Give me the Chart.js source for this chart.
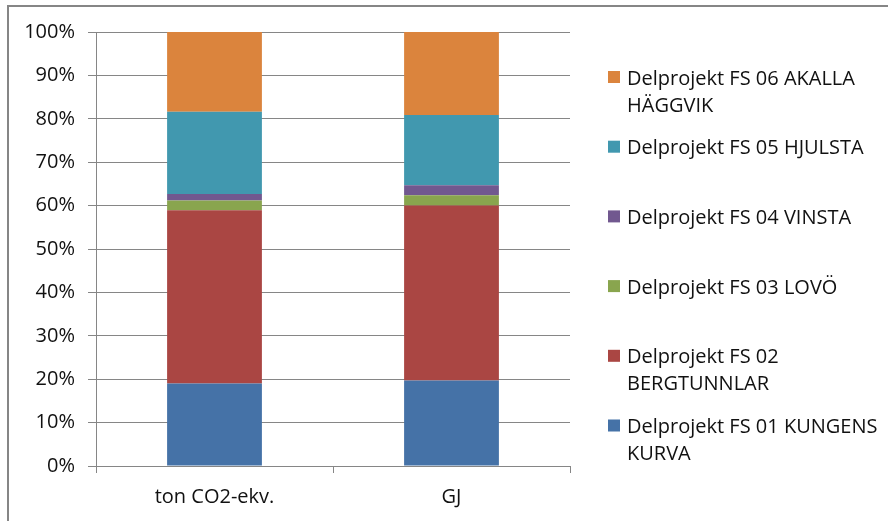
<!DOCTYPE html>
<html><head><meta charset="utf-8">
<script src="https://cdn.jsdelivr.net/npm/chart.js@4.4.1/dist/chart.umd.min.js"></script>
<style>
html,body{margin:0;padding:0;background:#fff;overflow:hidden}
#wrap{position:relative;width:888px;height:521px}
#frame{position:absolute;left:7px;top:5px;width:900px;height:600px;border-top:2px solid #868686;border-left:2px solid #868686;pointer-events:none}
canvas{position:absolute;left:0;top:0}
</style></head><body>
<div id="wrap"><canvas id="c" width="888" height="521"></canvas><div id="frame"></div></div>
<script>
// ---- data ----
const categories = ['ton CO2-ekv.', 'GJ'];
const seriesNames = [
  'Delprojekt FS 01 KUNGENS KURVA',
  'Delprojekt FS 02 BERGTUNNLAR',
  'Delprojekt FS 03 LOVÖ',
  'Delprojekt FS 04 VINSTA',
  'Delprojekt FS 05 HJULSTA',
  'Delprojekt FS 06 AKALLA HÄGGVIK'
];
const fs01 = [19.0, 19.7];
const fs02 = [39.9, 40.3];
const fs03 = [2.3, 2.4];
const fs04 = [1.5, 2.3];
const fs05 = [18.9, 16.2];
const fs06 = [18.4, 19.1];
const yTicks = [0, 10, 20, 30, 40, 50, 60, 70, 80, 90, 100];
const seriesColors = ['#4572A7', '#AA4643', '#89A54E', '#71588F', '#4198AF', '#DB843D'];

const seriesValues = [fs01, fs02, fs03, fs04, fs05, fs06];
const FONT = "'Open Sans', sans-serif";
const TEXT = '#111111';
const GRID = '#868686';

const legendPlugin = {
  id: 'sideLegend',
  afterDraw(chart) {
    const ctx = chart.ctx;
    ctx.save();
    ctx.font = '20px ' + FONT;
    ctx.textBaseline = 'alphabetic';
    ctx.textAlign = 'left';
    const ds = chart.data.datasets.slice().reverse();
    const maxW = 258;
    ds.forEach((d, i) => {
      const base = 84.5 + 69.7 * i;
      ctx.fillStyle = d.backgroundColor;
      ctx.fillRect(608, base - 13.5, 12, 12);
      const words = d.label.split(' ');
      const lines = [];
      let cur = '';
      words.forEach(w => {
        const t = cur ? cur + ' ' + w : w;
        if (ctx.measureText(t).width > maxW && cur) { lines.push(cur); cur = w; }
        else cur = t;
      });
      if (cur) lines.push(cur);
      ctx.fillStyle = TEXT;
      lines.forEach((ln, j) => ctx.fillText(ln, 627, base + 27 * j));
    });
    ctx.restore();
  }
};

new Chart(document.getElementById('c'), {
  type: 'bar',
  data: {
    labels: categories,
    datasets: seriesNames.map((n, i) => ({
      label: n,
      data: seriesValues[i],
      backgroundColor: seriesColors[i],
      borderWidth: 0,
      barPercentage: 0.4,
      categoryPercentage: 1.0
    }))
  },
  options: {
    responsive: false,
    animation: false,
    devicePixelRatio: 1,
    layout: { padding: { top: 32, left: 0, right: 318, bottom: 0 } },
    plugins: { legend: { display: false }, tooltip: { enabled: false }, title: { display: false } },
    scales: {
      x: {
        stacked: true,
        afterFit(s) { s.height = 55; },
        grid: { display: true, drawOnChartArea: false, drawTicks: true, tickLength: 7, color: GRID, offset: true },
        border: { display: true, color: GRID, width: 1 },
        ticks: { color: TEXT, font: { family: FONT, size: 20 }, padding: 12, maxRotation: 0 }
      },
      y: {
        stacked: true,
        min: 0, max: 100,
        afterFit(s) { s.width = 96; },
        afterBuildTicks(s) { s.ticks = yTicks.map(v => ({ value: v })); },
        grid: { color: GRID, lineWidth: 1, tickLength: 8, drawTicks: true },
        border: { display: true, color: GRID, width: 1 },
        ticks: { color: TEXT, font: { family: FONT, size: 20 }, padding: 13, callback: v => v + '%' }
      }
    }
  },
  plugins: [legendPlugin]
});
</script>
</body></html>
